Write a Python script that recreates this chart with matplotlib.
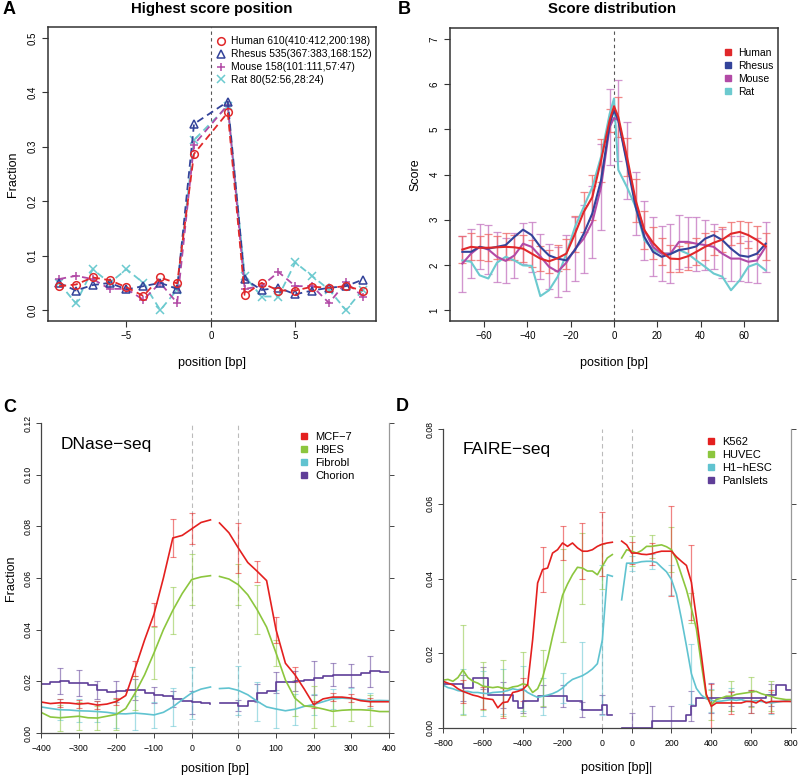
import numpy as np
import matplotlib
matplotlib.use("Agg")
import matplotlib.pyplot as plt
from matplotlib.lines import Line2D

plt.rcParams['font.family'] = ['Liberation Sans', 'DejaVu Sans']
plt.rcParams['axes.unicode_minus'] = True

# ---------------- Panel A data ----------------
a_pos = [-9, -8, -7, -6, -5, -4, -3, -2, -1, 1, 2, 3, 4, 5, 6, 7, 8, 9]
a_human = [0.044, 0.047, 0.060, 0.055, 0.042, 0.026, 0.060, 0.049, 0.287,
           0.363, 0.028, 0.050, 0.036, 0.036, 0.043, 0.041, 0.044, 0.036]
a_rhesus = [0.050, 0.036, 0.046, 0.050, 0.038, 0.044, 0.050, 0.039, 0.342,
            0.383, 0.057, 0.037, 0.041, 0.029, 0.036, 0.041, 0.044, 0.056]
a_mouse = [0.057, 0.063, 0.057, 0.039, 0.039, 0.019, 0.050, 0.013, 0.304,
           0.377, 0.039, 0.044, 0.070, 0.044, 0.044, 0.013, 0.051, 0.025]
a_rat = [0.050, 0.0125, 0.075, 0.050, 0.075, 0.050, 0.0, 0.0375, 0.3125,
         0.375, 0.0625, 0.025, 0.025, 0.0875, 0.0625, 0.0375, 0.0, 0.0375]
a_labels = ["Human 610(410:412,200:198)", "Rhesus 535(367:383,168:152)",
            "Mouse 158(101:111,57:47)", "Rat 80(52:56,28:24)"]

# ---------------- Panel B data ----------------
b_x = [-70, -66, -62, -58, -54, -50, -46, -42, -38, -34, -30, -26, -22, -18, -14, -10, -6, -2,
       0, 2, 6, 10, 14, 18, 22, 26, 30, 34, 38, 42, 46, 50, 54, 58, 62, 66, 70]
b_human = [2.34, 2.40, 2.38, 2.38, 2.39, 2.40, 2.39, 2.36, 2.25, 2.14, 2.08, 2.15, 2.25, 2.69, 3.17, 3.50, 4.31, 5.20,
           5.51, 5.27, 4.39, 3.43, 2.77, 2.49, 2.29, 2.14, 2.13, 2.19, 2.29, 2.40, 2.49, 2.56, 2.69, 2.73, 2.66, 2.55, 2.41]
b_rhesus = [2.29, 2.29, 2.40, 2.36, 2.40, 2.44, 2.62, 2.78, 2.66, 2.40, 2.21, 2.14, 2.10, 2.33, 2.69, 3.14, 3.87, 5.12,
            5.42, 5.20, 4.24, 3.28, 2.62, 2.29, 2.18, 2.24, 2.33, 2.36, 2.41, 2.58, 2.66, 2.55, 2.36, 2.21, 2.18, 2.25, 2.47]
b_mouse = [2.03, 2.25, 2.40, 2.34, 2.18, 2.09, 2.21, 2.47, 2.40, 2.19, 1.96, 1.85, 2.05, 2.35, 2.58, 2.95, 3.72, 5.05,
           5.25, 5.20, 4.31, 3.36, 2.77, 2.40, 2.25, 2.25, 2.51, 2.51, 2.47, 2.44, 2.40, 2.25, 2.14, 2.14, 2.07, 2.10, 2.40]
b_rat = [2.10, 2.07, 1.77, 1.70, 2.05, 2.18, 2.10, 1.99, 1.98, 1.31, 1.44, 1.74, 2.25, 2.84, 3.28, 3.72, 4.39, 5.34,
         5.68, 4.10, 3.72, 3.28, 2.55, 2.34, 2.25, 2.25, 2.33, 2.25, 2.10, 1.96, 1.81, 1.74, 1.44, 1.66, 1.96, 2.03, 1.88]
b_human_err = [0.29, 0.30, 0.27, 0.30, 0.26, 0.30, 0.28, 0.30, 0.30, 0.27, 0.25, 0.28, 0.33, 0.40, 0.45, 0.50, 0.48, 0.25,
               0.45, 0.42, 0.48, 0.42, 0.35, 0.30, 0.30, 0.28, 0.30, 0.30, 0.30, 0.27, 0.28, 0.25, 0.25, 0.28, 0.30, 0.30]
b_mouse_err = [0.62, 0.55, 0.50, 0.55, 0.55, 0.50, 0.50, 0.45, 0.55, 0.50, 0.50, 0.55, 0.62, 0.70, 0.75, 0.80, 0.95, 0.85,
               0.90, 0.85, 0.70, 0.65, 0.65, 0.60, 0.65, 0.60, 0.55, 0.60, 0.55, 0.50, 0.55, 0.50, 0.50, 0.45, 0.50, 0.55]
b_labels = ["Human", "Rhesus", "Mouse", "Rat"]

# ---------------- Panel C data (DNase-seq) ----------------
c_xl = [-400, -375, -350, -325, -300, -275, -250, -225, -200, -175, -150, -125, -100, -75, -50, -25, 0, 25, 50]
c_xr = [-50, -25, 0, 25, 50, 75, 100, 125, 150, 175, 200, 225, 250, 275, 300, 325, 350, 375, 400]
c_mcf7_l = [.012, .0114, .0117, .0116, .0112, .0115, .0108, .0112, .0122, .0145, .025, .036, .046, .060, .0755, .0765, .079, .0815, .0825]
c_mcf7_r = [.0813, .0775, .0716, .066, .0626, .059, .040, .027, .0226, .017, .011, .0132, .0139, .0139, .0135, .0125, .0121, .0121, .0121]
c_h9es_l = [.008, .0062, .0059, .0062, .0065, .0059, .0058, .0065, .0072, .0095, .0155, .0225, .031, .040, .0475, .054, .0594, .0604, .0609]
c_h9es_r = [.0606, .0596, .0574, .0535, .0477, .041, .031, .0205, .0135, .0105, .0101, .0093, .0084, .0088, .009, .009, .0088, .0083, .0083]
c_fib_l = [.0101, .0095, .009, .0089, .0086, .0085, .0083, .008, .0075, .0074, .0077, .0074, .007, .008, .0101, .0129, .0155, .017, .0178]
c_fib_r = [.0172, .0174, .0165, .0148, .0123, .0101, .0093, .0086, .0092, .0103, .011, .0121, .0132, .0135, .0133, .0129, .0125, .0126, .0125]
c_cho_l = [.0191, .0197, .02, .0194, .0194, .0187, .0165, .0158, .0161, .0168, .0168, .0155, .0148, .0142, .0132, .0124, .0119, .0116, .0114]
c_cho_r = [.0116, .0116, .0106, .0123, .0155, .0161, .0196, .0196, .0201, .0206, .0212, .0219, .0226, .0223, .0223, .0232, .0239, .0237, .0237]
c_err_l = {"MCF-7": [.0015, .0015, .0015, .0015, .003, .0045, .0075, .006],
           "H9ES": [.005, .0055, .0045, .006, .0065, .01, .009, .01],
           "Fibrobl": [.004, .0045, .004, .0055, .0065, .005, .0075, .01],
           "Chorion": [.005, .005, .0035, .004, .004, .003, .003, .0045]}
c_err_r = {"MCF-7": [.0095, .004, .005, .003, .0015, .0015, .0015, .0015],
           "H9ES": [.008, .0095, .005, .007, .008, .0055, .0045, .006],
           "Fibrobl": [.0095, .0075, .0075, .006, .004, .004, .004, .003],
           "Chorion": [.002, .0035, .004, .004, .0065, .0045, .0045, .006]}

# ---------------- Panel D data (FAIRE-seq) ----------------
d_xl = [-800, -775, -750, -725, -700, -675, -650, -625, -600, -575, -550, -525, -500, -475, -450, -425, -400, -375,
        -350, -325, -300, -275, -250, -225, -200, -175, -150, -125, -100, -75, -50, -25, 0, 25, 50]
d_xr = [-50, -25, 0, 25, 50, 75, 100, 125, 150, 175, 200, 225, 250, 275, 300, 325, 350, 375, 400, 425, 450, 475,
        500, 525, 550, 575, 600, 625, 650, 675, 700, 725, 750, 775, 800]
d_k562_l = [.0125, .012, .0115, .0105, .0098, .0093, .0088, .0085, .008, .0078, .0076, .0054, .0068, .007, .0095, .0098,
            .0103, .0116, .0236, .0388, .0424, .0428, .0468, .0477, .0495, .0486, .0495, .0482, .0473, .0473, .0477,
            .0486, .0492, .0495, .0497]
d_k562_r = [.05, .049, .0468, .0468, .0465, .0464, .0466, .047, .0473, .0473, .0473, .0458, .0446, .0435, .039, .0295,
            .0195, .009, .0058, .0067, .0067, .0067, .0067, .0067, .0067, .0071, .0071, .0067, .0075, .0067, .0071,
            .0071, .0071, .0071, .0071]
d_huvec_l = [.0128, .013, .0125, .0135, .0155, .0135, .0125, .012, .0112, .011, .0108, .011, .0107, .0105, .011, .0112,
             .0118, .0115, .0095, .0105, .0135, .0185, .0245, .030, .0355, .0385, .041, .043, .0428, .042, .042, .041,
             .0433, .0455, .0464]
d_huvec_r = [.0455, .0477, .0473, .0468, .0475, .0486, .0486, .0488, .049, .0485, .0477, .045, .041, .037, .032, .0265,
             .017, .0085, .0062, .0076, .008, .0085, .0085, .009, .0092, .0094, .0096, .0098, .0092, .0088, .0085,
             .008, .0078, .0076, .0076]
d_h1_l = [.0115, .0108, .0105, .010, .0098, .0098, .0095, .0095, .0093, .0092, .0095, .0096, .0097, .010, .0105, .0102,
          .0105, .0095, .0088, .0082, .0085, .0088, .0092, .0098, .0107, .012, .013, .0135, .014, .0148, .0158, .0172,
          .0236, .041, .0406]
d_h1_r = [.0343, .0441, .0441, .0442, .0445, .0446, .0446, .0443, .043, .0418, .0397, .0358, .0292, .022, .0145, .0106,
          .0088, .0078, .0074, .0071, .0072, .0074, .0076, .0074, .0076, .0072, .0071, .0073, .0071, .0069, .0067,
          .0069, .0071, .0073, .0071]
d_pan_l = [.0119, .0119, .0119, .0119, .0107, .0107, .0134, .0134, .0134, .0089, .0089, .0089, .0089, .0089, .0071,
           .0054, .0071, .0071, .0071, .0085, .0085, .0085, .0085, .0085, .0085, .0071, .0071, .0071, .0049, .0049,
           .0049, .0049, .0062, .0036, .0036]
d_pan_r = [0, 0, 0, 0, 0, 0, .0018, .0018, .0018, .0018, .0018, .0018, .0018, .0036, .0058, .008, .008, .008, .008,
           .008, .008, .008, .008, .008, .008, .008, .008, .008, .008, .0089, .0089, .0116, .0116, .0103, .0103]
d_err_l = {"K562": [.003, .003, .004, .003, .006, .0045, .0075, .0085],
           "HUVEC": [.012, .0065, .0075, .0085, .0075, .0125, .0095, .006],
           "H1-hESC": [.006, .006, .006, .006, .005, .004, .009, .02],
           "PanIslets": [.0035, .003, .0035, .003, .003, .003, .002, .0025]}
d_err_r = {"K562": [.003, .003, .012, .01, .006, .003, .003, .003],
           "HUVEC": [.004, .003, .006, .004, .004, .004, .004, .004],
           "H1-hESC": [.002, .002, .004, .008, .003, .003, .003, .003],
           "PanIslets": [.004, .004, .004, .004, .004, .002, .002, .003]}

# ---------------- styles ----------------
COL_HUMAN = '#E0282A'
COL_RHESUS = '#33439A'
COL_MOUSE = '#B24AA6'
COL_RAT = '#6CCACF'
COL_RED = '#E4201F'
COL_GREEN = '#8CC63E'
COL_CYAN = '#60C3D0'
COL_PURPLE = '#5F3E98'
SPINE = '#333333'

W, H = 800, 780
fig = plt.figure(figsize=(8.0, 7.8), dpi=100)


def px_axes(l, t, r, b):
    return fig.add_axes([l / W, 1 - b / H, (r - l) / W, (b - t) / H])


def fig_text(x, y, s, **kw):
    fig.text(x / W, 1 - y / H, s, **kw)


def box_style(ax):
    for s in ax.spines.values():
        s.set_color(SPINE)
        s.set_linewidth(1.1)
    ax.tick_params(axis='both', direction='out', length=4, width=0.8, color=SPINE,
                   labelsize=7, pad=3.5)
    for lab in ax.get_yticklabels():
        lab.set_rotation(90)
        lab.set_va('center')


def legend_px(ax, handles, labels, x_marker, y_first, fs, spacing):
    fs_px = fs * 100 / 72.0
    leg = ax.legend(handles, labels, loc='upper left',
                    bbox_to_anchor=((x_marker - 0.4 * fs_px) / W, 1 - (y_first - 0.42 * fs_px) / H),
                    bbox_transform=fig.transFigure, frameon=False, fontsize=fs,
                    handlelength=0.8, handletextpad=0.6, labelspacing=spacing,
                    borderpad=0, borderaxespad=0)
    return leg


# ================= Panel A =================
axA = px_axes(48, 27, 376, 321)
axA.axvline(0, color='#555555', ls=(0, (3, 3)), lw=0.8)
a_series = [(a_rat, COL_RAT, 'x'), (a_mouse, COL_MOUSE, '+'),
            (a_rhesus, COL_RHESUS, '^'), (a_human, COL_HUMAN, 'o')]
for vals, col, mk in a_series:
    axA.plot(a_pos, vals, color=col, ls=(0, (4, 2.5)), lw=1.3, marker=mk,
             ms=5.5 if mk in 'ox' else 6, mfc='none', mec=col, mew=1.1)
axA.set_xlim(-9.65, 9.78)
axA.set_ylim(-0.02, 0.52)
axA.set_xticks([-5, 0, 5])
axA.set_xticklabels(['\u22125', '0', '5'])
axA.set_yticks([0.0, 0.1, 0.2, 0.3, 0.4, 0.5])
axA.set_yticklabels(['0.0', '0.1', '0.2', '0.3', '0.4', '0.5'])
box_style(axA)
axA.set_xlabel('position [bp]', fontsize=9, labelpad=11)
axA.set_ylabel('Fraction', fontsize=9, labelpad=6)
hA = [Line2D([], [], ls='none', marker=m, mfc='none', mec=c, mew=1.1, ms=5.5)
      for c, m in [(COL_HUMAN, 'o'), (COL_RHESUS, '^'), (COL_MOUSE, '+'), (COL_RAT, 'x')]]
legend_px(axA, hA, a_labels, 221, 40.7, 7.5, 0.28)
fig_text(212, 9, 'Highest score position', fontsize=10.8, fontweight='bold', ha='center', va='center')
fig_text(3, 10, 'A', fontsize=13, fontweight='bold', ha='left', va='center')

# ================= Panel B =================
axB = px_axes(450, 28, 778, 321)
axB.axvline(0, color='#555555', ls=(0, (3, 3)), lw=0.8)
bar_idx = [i for i, v in enumerate(b_x) if v != 0]
bx = np.array(b_x)
axB.errorbar(bx[bar_idx], np.array(b_mouse)[bar_idx], yerr=b_mouse_err, fmt='none',
             ecolor='#C77CC4', elinewidth=1.0, capsize=2.8, capthick=0.9, alpha=0.8)
axB.errorbar(bx[bar_idx], np.array(b_human)[bar_idx], yerr=b_human_err, fmt='none',
             ecolor='#EE6A6A', elinewidth=1.0, capsize=2.8, capthick=0.9, alpha=0.8)
for vals, col in [(b_rat, COL_RAT), (b_mouse, COL_MOUSE), (b_rhesus, COL_RHESUS), (b_human, COL_HUMAN)]:
    axB.plot(b_x, vals, color=col, lw=1.5)
axB.set_xlim(-75.7, 75.7)
axB.set_ylim(0.76, 7.24)
axB.set_xticks([-60, -40, -20, 0, 20, 40, 60])
axB.set_xticklabels(['\u221260', '\u221240', '\u221220', '0', '20', '40', '60'])
axB.set_yticks([1, 2, 3, 4, 5, 6, 7])
axB.set_yticklabels(['1', '2', '3', '4', '5', '6', '7'])
box_style(axB)
axB.set_xlabel('position [bp]', fontsize=9, labelpad=11)
axB.set_ylabel('Score', fontsize=9, labelpad=6)
hB = [Line2D([], [], ls='none', marker='s', color=c, ms=4)
      for c in [COL_HUMAN, COL_RHESUS, COL_MOUSE, COL_RAT]]
legend_px(axB, hB, b_labels, 728, 52, 7.5, 0.3)
fig_text(612, 9, 'Score distribution', fontsize=10.8, fontweight='bold', ha='center', va='center')
fig_text(398, 10, 'B', fontsize=13, fontweight='bold', ha='left', va='center')


# ================= Panels C and D =================
def seg_panel(ax, xl, xr, off, series, err_l, err_r, idx_l, idx_r, xmax, xt_step):
    ax.axvline(0, color='#BBBBBB', ls=(0, (4, 3)), lw=0.8)
    ax.axvline(off, color='#BBBBBB', ls=(0, (4, 3)), lw=0.8)
    xl = np.array(xl, dtype=float)
    xr = np.array(xr, dtype=float) + off
    for name, yl, yr, col, steps in series:
        yl = np.array(yl)
        yr = np.array(yr)
        ax.errorbar(xl[idx_l], yl[idx_l], yerr=err_l[name], fmt='none', ecolor=col,
                    elinewidth=0.9, capsize=2.0, capthick=0.8, alpha=0.55)
        ax.errorbar(xr[idx_r], yr[idx_r], yerr=err_r[name], fmt='none', ecolor=col,
                    elinewidth=0.9, capsize=2.0, capthick=0.8, alpha=0.55)
    for name, yl, yr, col, steps in series:
        ds = 'steps-post' if steps else 'default'
        ax.plot(xl, yl, color=col, lw=1.2, drawstyle=ds)
        ax.plot(xr, yr, color=col, lw=1.2, drawstyle=ds)
    ax.set_xlim(-xmax, xmax + off)
    lt = list(range(-xmax, 1, xt_step))
    rt = list(range(0, xmax + 1, xt_step))
    ax.set_xticks(lt + [t + off for t in rt])
    ax.set_xticklabels([str(t).replace('-', '\u2212') for t in lt] + [str(t) for t in rt])
    ax.spines['top'].set_visible(False)
    ax.spines['left'].set_color('#444444')
    ax.spines['bottom'].set_color('#444444')
    ax.spines['right'].set_color('#999999')
    for s in ax.spines.values():
        s.set_linewidth(0.9)
    ax.tick_params(axis='both', direction='out', length=3.5, width=0.7, color='#444444',
                   labelsize=6.3, pad=2.5)
    ax.tick_params(axis='x', pad=4.5)
    ax.tick_params(axis='y', right=True, labelright=False)
    for lab in ax.get_yticklabels():
        lab.set_rotation(90)
        lab.set_va('center')


axC = px_axes(41, 423, 389, 733)
C_OFF = 124
c_series = [("Chorion", c_cho_l, c_cho_r, COL_PURPLE, True),
            ("Fibrobl", c_fib_l, c_fib_r, COL_CYAN, False),
            ("H9ES", c_h9es_l, c_h9es_r, COL_GREEN, False),
            ("MCF-7", c_mcf7_l, c_mcf7_r, COL_RED, False)]
axC.set_ylim(0, 0.12)
axC.set_yticks([0, 0.02, 0.04, 0.06, 0.08, 0.10, 0.12])
axC.set_yticklabels(['0.00', '0.02', '0.04', '0.06', '0.08', '0.10', '0.12'])
seg_panel(axC, c_xl, c_xr, C_OFF, c_series, c_err_l, c_err_r,
          [2, 4, 6, 8, 10, 12, 14, 16], [2, 4, 6, 8, 10, 12, 14, 16], 400, 100)
axC.set_xlabel('position [bp]', fontsize=9, labelpad=7)
axC.set_ylabel('Fraction', fontsize=9, labelpad=5)
axC.text(0.057, 0.93, 'DNase\u2212seq', transform=axC.transAxes, fontsize=12.5, ha='left', va='center')
hC = [Line2D([], [], ls='none', marker='s', color=c, ms=4)
      for c in [COL_RED, COL_GREEN, COL_CYAN, COL_PURPLE]]
legend_px(axC, hC, ['MCF\u22127', 'H9ES', 'Fibrobl', 'Chorion'], 304, 436.7, 8, 0.26)
fig_text(3, 408, 'C', fontsize=13, fontweight='bold', ha='left', va='center')

axD = px_axes(443, 429, 791, 728)
D_OFF = 147
d_series = [("PanIslets", d_pan_l, d_pan_r, COL_PURPLE, True),
            ("H1-hESC", d_h1_l, d_h1_r, COL_CYAN, False),
            ("HUVEC", d_huvec_l, d_huvec_r, COL_GREEN, False),
            ("K562", d_k562_l, d_k562_r, COL_RED, False)]
axD.set_ylim(0, 0.08)
axD.set_yticks([0, 0.02, 0.04, 0.06, 0.08])
axD.set_yticklabels(['0.00', '0.02', '0.04', '0.06', '0.08'])
seg_panel(axD, d_xl, d_xr, D_OFF, d_series, d_err_l, d_err_r,
          [4, 8, 12, 16, 20, 24, 28, 32], [2, 6, 10, 14, 18, 22, 26, 30], 800, 200)
axD.set_xlabel('position [bp]|', fontsize=9, labelpad=10)
axD.text(0.055, 0.93, 'FAIRE\u2212seq', transform=axD.transAxes, fontsize=12.5, ha='left', va='center')
hD = [Line2D([], [], ls='none', marker='s', color=c, ms=4)
      for c in [COL_RED, COL_GREEN, COL_CYAN, COL_PURPLE]]
legend_px(axD, hD, ['K562', 'HUVEC', 'H1\u2212hESC', 'PanIslets'], 710.7, 442, 8, 0.27)
fig_text(396, 406, 'D', fontsize=13, fontweight='bold', ha='left', va='center')

fig.savefig('out.png', dpi=100)
